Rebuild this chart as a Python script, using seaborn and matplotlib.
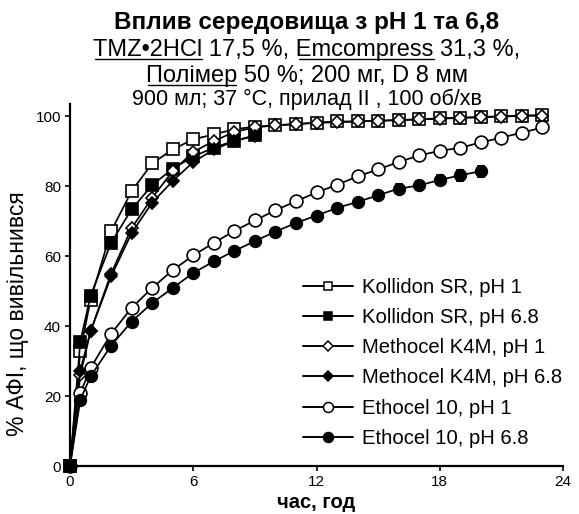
import matplotlib
matplotlib.use("Agg")
import matplotlib.pyplot as plt
import seaborn as sns
import pandas as pd
from matplotlib.lines import Line2D
from matplotlib.textpath import TextPath
from matplotlib.font_manager import FontProperties

# ---------------- data ----------------
time_full = [0, 0.5, 1, 2, 3, 4, 5, 6, 7, 8, 9, 10, 11, 12, 13, 14, 15, 16, 17, 18, 19, 20, 21, 22, 23]
time_short = [0, 0.5, 1, 2, 3, 4, 5, 6, 7, 8, 9]
time_eth68 = [0, 0.5, 1, 2, 3, 4, 5, 6, 7, 8, 9, 10, 11, 12, 13, 14, 15, 16, 17, 18, 19, 20]

kollidon_ph1 = [0, 32.8, 47.5, 67.1, 78.6, 86.5, 90.5, 93.4, 94.8, 96.3, 97.0, 97.4, 97.7, 98.2,
                98.5, 98.5, 98.7, 98.9, 99.1, 99.4, 99.6, 99.8, 100.0, 100.2, 100.3]
kollidon_ph68 = [0, 35.5, 48.7, 63.8, 73.4, 80.3, 85.0, 88.5, 91.0, 93.0, 94.5]
methocel_ph1 = [0, 26.0, 38.5, 55.0, 68.0, 76.7, 84.3, 89.8, 92.9, 95.5, 96.8, 97.4, 97.8, 98.1,
                98.3, 98.5, 98.7, 98.9, 99.1, 99.3, 99.5, 99.7, 99.9, 100.1, 100.2]
methocel_ph68 = [0, 27.2, 38.5, 54.2, 66.6, 75.3, 81.5, 86.9, 90.5, 92.9, 94.4]
ethocel_ph1 = [0, 20.8, 28.0, 37.8, 45.2, 50.9, 56.0, 60.2, 63.8, 67.2, 70.2, 73.1, 75.7, 78.2,
               80.4, 82.8, 84.8, 86.9, 88.8, 90.1, 91.0, 92.5, 93.9, 95.3, 96.8]
ethocel_ph68 = [0, 18.9, 25.6, 34.4, 41.3, 46.6, 50.9, 55.2, 58.5, 61.5, 64.3, 67.0, 69.5, 71.6,
                73.8, 75.5, 77.4, 79.3, 80.2, 81.8, 83.1, 84.3]
ethocel_ph68_err = [0, 0, 0, 0, 0, 0, 0, 0, 0, 0, 0, 0, 0, 0, 0, 0, 1.0, 1.2, 1.2, 1.4, 1.5, 1.6]

series_labels = ["Kollidon SR, pH 1", "Kollidon SR, pH 6.8", "Methocel K4M, pH 1",
                 "Methocel K4M, pH 6.8", "Ethocel 10, pH 1", "Ethocel 10, pH 6.8"]
series_times = [time_full, time_short, time_full, time_short, time_full, time_eth68]
series_values = [kollidon_ph1, kollidon_ph68, methocel_ph1, methocel_ph68, ethocel_ph1, ethocel_ph68]

x_ticks = [0, 6, 12, 18, 24]
y_ticks = [0, 20, 40, 60, 80, 100]

title_1 = "Вплив середовища з pH 1 та 6,8"
title_2 = [("TMZ•2HCl", True), (" 17,5 %, ", False), ("Emcompress", True), (" 31,3 %,", False)]
title_3 = [("Полімер", True), (" 50 %; 200 мг, D 8 мм", False)]
title_4 = "900 мл; 37 °С, прилад II , 100 об/хв"
x_label = "час, год"
y_label = "% АФІ, що вивільнився"

# ---------------- style ----------------
sns.set_theme(style="ticks")
FAM = ["Liberation Sans", "DejaVu Sans"]
plt.rcParams["font.family"] = FAM
for k in ["text.color", "axes.labelcolor", "xtick.color", "ytick.color", "axes.edgecolor"]:
    plt.rcParams[k] = "black"

W, H = 579, 514
DPI = 100
fig = plt.figure(figsize=(W / DPI, H / DPI), dpi=DPI)
ax = fig.add_axes([70 / W, 1 - 466 / H, (563 - 70) / W, (466 - 104) / H])

markers = ["s", "s", "D", "D", "o", "o"]
faces = ["white", "black", "white", "black", "white", "black"]
msizes = [8.6, 8.6, 6.4, 6.4, 9.2, 8.4]
leg_ms = [6.4, 6.4, 4.6, 4.6, 7.2, 7.2]

frames = []
for lab, tt, vv in zip(series_labels, series_times, series_values):
    frames.append(pd.DataFrame({"t": tt, "v": vv, "series": lab}))
df = pd.concat(frames, ignore_index=True)

for i, lab in enumerate(series_labels):
    sub = df[df["series"] == lab]
    sns.lineplot(data=sub, x="t", y="v", ax=ax, color="black", lw=1.25,
                 marker=markers[i], markersize=msizes[i], markerfacecolor=faces[i],
                 markeredgecolor="black", markeredgewidth=1.2, clip_on=False,
                 zorder=3 + i, legend=False, errorbar=None, sort=False)

ax.errorbar(time_eth68, ethocel_ph68, yerr=ethocel_ph68_err, fmt="none", ecolor="black",
            elinewidth=1.2, capsize=3, capthick=1.2, zorder=2.5, clip_on=False)

ax.set_xlim(0, 24)
ax.set_ylim(0, 103.5)
ax.set_xticks(x_ticks)
ax.set_yticks(y_ticks)
ax.set_xticklabels([str(v) for v in x_ticks])
ax.set_yticklabels([str(v) for v in y_ticks])
ax.tick_params(direction="out", length=3.5, width=1.2, labelsize=11, pad=3, colors="black")
for s in ["top", "right"]:
    ax.spines[s].set_visible(False)
for s in ["left", "bottom"]:
    ax.spines[s].set_linewidth(1.6)
    ax.spines[s].set_color("black")
ax.set_xlabel(x_label, fontsize=14.5, fontweight="bold", labelpad=2.5)
ax.set_ylabel(y_label, fontsize=16.5, labelpad=5)
ax.yaxis.label.set_y(0.42)
ax.grid(False)

handles = [Line2D([], [], color="black", lw=1.4, marker=markers[i], markersize=leg_ms[i],
                  markerfacecolor=faces[i], markeredgecolor="black", markeredgewidth=1.1)
           for i in range(6)]
ax.legend(handles, series_labels, loc="upper left", bbox_to_anchor=(303 / W, 1 - 278 / H),
          bbox_transform=fig.transFigure, frameon=False, fontsize=14.6, borderpad=0,
          handlelength=2.45, handletextpad=0.45, labelspacing=0.55, borderaxespad=0)

# ---------------- titles ----------------
xc = 307 / W
fig.text(xc, 1 - 29 / H, title_1, ha="center", va="baseline", fontsize=17.5, fontweight="bold")
fig.text(xc, 1 - 105 / H, title_4, ha="center", va="baseline", fontsize=15.5)

fig.canvas.draw()
renderer = fig.canvas.get_renderer()


def ink_x1(s, size):
    fp = FontProperties(family=FAM, size=size)
    ext = TextPath((0, 0), s, size=size, prop=fp).get_extents()
    return ext.x1 * DPI / 72.0, ext.x0 * DPI / 72.0, ext.width * DPI / 72.0


def underlined_line(y_px, segments, size):
    full = "".join(s for s, _ in segments)
    txt = fig.text(xc, 1 - y_px / H, full, ha="center", va="baseline", fontsize=size)
    bb = txt.get_window_extent(renderer)
    full_x1, full_x0, full_w = ink_x1(full, size)
    origin = bb.x0 + (bb.width - full_w) / 2.0 - full_x0
    prefix = ""
    yb = (H - y_px) - 2.5
    for s, ul in segments:
        if ul:
            end_x1, _, _ = ink_x1(prefix + s, size)
            _, _, w = ink_x1(s, size)
            xe = origin + end_x1
            xs = xe - w
            fig.add_artist(Line2D([xs / W, xe / W], [yb / H, yb / H], color="black",
                                  lw=1.0, transform=fig.transFigure))
        prefix += s


underlined_line(56, title_2, 17)
underlined_line(82, title_3, 17)

fig.savefig("out.png", dpi=DPI)
